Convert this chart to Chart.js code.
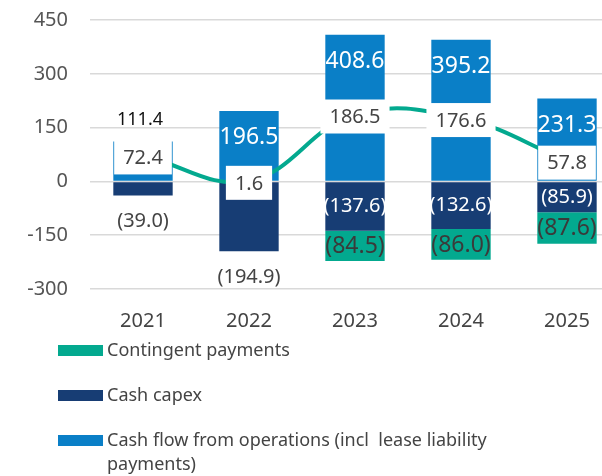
<!DOCTYPE html>
<html>
<head>
<meta charset="utf-8">
<script src="https://cdn.jsdelivr.net/npm/chart.js@4.4.1/dist/chart.umd.min.js"></script>
<style>
  html, body { margin: 0; padding: 0; background: #fff; overflow: hidden; }
  body { width: 602px; height: 476px; position: relative; font-family: 'Noto Sans', sans-serif; }
  #wrap { position: absolute; left: 0; top: 0; width: 620px; height: 340px; }
  #legend { position: absolute; left: 58px; top: 337px; width: 440px; }
  .item { display: flex; align-items: flex-start; height: 45px; }
  .box { width: 45px; height: 11px; margin-top: 8px; margin-right: 4px; flex: none; }
  .txt { font-size: 18px; line-height: 24px; color: #444; white-space: pre-wrap; }
</style>
</head>
<body>
<div id="wrap"><canvas id="chart" width="620" height="340"></canvas></div>
<div id="legend"></div>
<script>
const years = ['2021', '2022', '2023', '2024', '2025'];
const cashFromOps = [111.4, 196.5, 408.6, 395.2, 231.3];
const cashCapex = [-39.0, -194.9, -137.6, -132.6, -85.9];
const contingentPayments = [null, null, -84.5, -86.0, -87.6];
const netCashFlow = [72.4, 1.6, 186.5, 176.6, 57.8];
const yMin = -300, yMax = 450, yStep = 150;

const BLUE = '#0a7fc7', NAVY = '#173d74', TEAL = '#03a98f';

function fmt(v) {
    const s = Math.abs(v).toFixed(1);
    return v < 0 ? '(' + s + ')' : s;
}

// draws the value labels on bars and the boxed labels on the net line
const valueLabels = {
    id: 'valueLabels',
    afterDatasetsDraw(chart) {
        const ctx = chart.ctx;
        ctx.save();
        ctx.textAlign = 'center';
        ctx.textBaseline = 'middle';
        chart.data.datasets.forEach((ds, di) => {
            const meta = chart.getDatasetMeta(di);
            meta.data.forEach((el, i) => {
                const v = ds.data[i];
                if (v === null || v === undefined) return;
                const txt = fmt(v);
                if (ds.key === 'ops') {
                    const h = el.base - el.y;
                    if (h < 50) {
                        ctx.font = '18px "Noto Sans"';
                        ctx.fillStyle = '#111';
                        ctx.fillText(txt, el.x - 3, el.y - 22);
                    } else {
                        ctx.font = '23px "Noto Sans"';
                        ctx.fillStyle = '#fff';
                        ctx.fillText(txt, el.x, el.y + 27);
                    }
                } else if (ds.key === 'capex') {
                    ctx.font = '20px "Noto Sans"';
                    if (contingentPayments[i] === null) {
                        ctx.fillStyle = '#444';
                        ctx.fillText(txt, el.x, el.y + 26);
                    } else {
                        ctx.fillStyle = '#fff';
                        ctx.fillText(txt, el.x, (el.y + el.base) / 2);
                    }
                } else if (ds.key === 'contingent') {
                    ctx.font = '23px "Noto Sans"';
                    ctx.fillStyle = '#3a3a3a';
                    ctx.fillText(txt, el.x, (el.y + el.base) / 2 + 1);
                } else if (ds.key === 'net') {
                    ctx.font = '20px "Noto Sans"';
                    const w = ctx.measureText(txt).width + 18;
                    const h = 34;
                    ctx.fillStyle = '#fff';
                    ctx.fillRect(el.x - w / 2, el.y - h / 2 + 2, w, h);
                    ctx.fillStyle = '#444';
                    ctx.fillText(txt, el.x, el.y + 3);
                }
            });
        });
        ctx.restore();
    }
};

Chart.defaults.font.family = "'Noto Sans', sans-serif";

const chart = new Chart(document.getElementById('chart'), {
    data: {
        labels: years,
        datasets: [
            { type: 'bar', key: 'ops', label: 'Cash flow from operations (incl  lease liability payments)',
              data: cashFromOps, backgroundColor: BLUE, stack: 'bars', order: 1 },
            { type: 'bar', key: 'capex', label: 'Cash capex',
              data: cashCapex, backgroundColor: NAVY, stack: 'bars', order: 1 },
            { type: 'bar', key: 'contingent', label: 'Contingent payments',
              data: contingentPayments, backgroundColor: TEAL, stack: 'bars', order: 1 },
            { type: 'line', key: 'net', label: 'Net',
              data: netCashFlow, borderColor: TEAL, borderWidth: 4, tension: 0.4,
              pointRadius: 0, fill: false, stack: 'net', order: 0 }
        ]
    },
    options: {
        responsive: false,
        animation: false,
        layout: { padding: { top: 20, left: 0, right: 0, bottom: 0 } },
        plugins: { legend: { display: false }, tooltip: { enabled: false } },
        datasets: { bar: { barPercentage: 0.56, categoryPercentage: 1 } },
        scales: {
            x: {
                stacked: true,
                grid: { display: false, drawTicks: false },
                border: { display: false },
                ticks: { color: '#444', font: { size: 20 }, padding: 20 },
                afterFit: s => { s.height = 51; }
            },
            y: {
                stacked: true,
                min: yMin, max: yMax,
                grid: { color: '#d9d9d9', lineWidth: 1.5, drawTicks: false },
                border: { display: false },
                ticks: { stepSize: yStep, color: '#555', font: { size: 20 }, padding: 22 },
                afterFit: s => { s.width = 90; s.paddingTop = 0; s.paddingBottom = 0; }
            }
        }
    },
    plugins: [valueLabels]
});

// legend built from the bar datasets, in reverse order
const legend = document.getElementById('legend');
chart.data.datasets.filter(d => d.type === 'bar').slice().reverse().forEach(d => {
    const item = document.createElement('div');
    item.className = 'item';
    const box = document.createElement('span');
    box.className = 'box';
    box.style.background = d.backgroundColor;
    const txt = document.createElement('span');
    txt.className = 'txt';
    txt.textContent = d.label;
    item.appendChild(box);
    item.appendChild(txt);
    legend.appendChild(item);
});
</script>
</body>
</html>
